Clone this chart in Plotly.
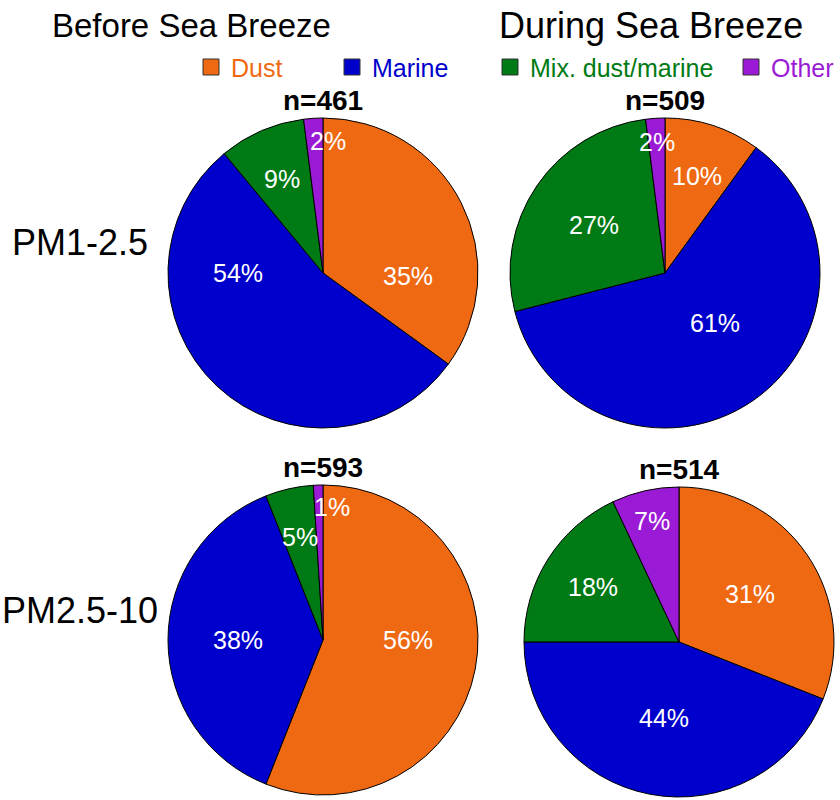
import math
import plotly.graph_objects as go

categories = ["Dust", "Marine", "Mix. dust/marine", "Other"]
colors = ["#EF6912", "#0000CC", "#007A14", "#9B1AD6"]

before_pm1_25 = [35, 54, 9, 2]
during_pm1_25 = [10, 61, 27, 2]
before_pm25_10 = [56, 38, 5, 1]
during_pm25_10 = [31, 44, 18, 7]

n_counts = [461, 509, 593, 514]
col_titles = ["Before Sea Breeze", "During Sea Breeze"]
row_titles = ["PM1-2.5", "PM2.5-10"]

W, H = 840, 800
FONT = "Liberation Sans, Arial, sans-serif"

# pie placement (pixel boxes: x0, x1, y0, y1)
boxes = [
    (168, 478, 118, 428),
    (510, 820, 118, 428),
    (168, 478, 485, 795),
    (524, 834, 487, 797),
]
series = [before_pm1_25, during_pm1_25, before_pm25_10, during_pm25_10]

# label placement tweaks (pie index, slice index) -> (angle deg clockwise from 12, radius fraction)
label_override = {
    (0, 0): (92, None), (0, 1): (270, None), (0, 3): (2, None),
    (1, 1): (135, 0.46),
    (2, 0): (90, None), (2, 2): (None, 0.68), (2, 3): (4, 0.86),
    (3, 1): (None, 0.50), (3, 3): (None, 0.80),
}


def label_frac(p):
    if p < 4:
        return 0.85
    if p < 8:
        return 0.74
    if p < 20:
        return 0.66
    return 0.55


fig = go.Figure()
annotations = []
for k, (vals, (x0, x1, y0, y1)) in enumerate(zip(series, boxes)):
    fig.add_trace(go.Pie(
        labels=categories,
        values=vals,
        sort=False,
        direction="clockwise",
        rotation=0,
        marker=dict(colors=colors, line=dict(color="black", width=1)),
        textinfo="none",
        domain=dict(x=[x0 / W, x1 / W], y=[1 - y1 / H, 1 - y0 / H]),
        showlegend=False,
        hoverinfo="label+percent",
    ))
    cx, cy = (x0 + x1) / 2, (y0 + y1) / 2
    r = min(x1 - x0, y1 - y0) / 2
    total = sum(vals)
    cum = 0
    for i, v in enumerate(vals):
        mid = (cum + v / 2) / total * 360
        cum += v
        a_ov, f_ov = label_override.get((k, i), (None, None))
        ang = mid if a_ov is None else a_ov
        f = label_frac(v / total * 100) if f_ov is None else f_ov
        px = cx + f * r * math.sin(math.radians(ang))
        py = cy - f * r * math.cos(math.radians(ang))
        annotations.append(dict(text=f"{v}%", x=px / W, y=1 - py / H, xref="paper", yref="paper",
                                showarrow=False, xanchor="center", yanchor="middle",
                                font=dict(size=25, family=FONT, color="white")))

# column titles
for t, cx, fs in zip(col_titles, [191, 651], [33, 36]):
    annotations.append(dict(text=t, x=cx / W, y=1 - 25 / H, xref="paper", yref="paper",
                            showarrow=False, xanchor="center", yanchor="middle",
                            font=dict(size=fs, family=FONT, color="black")))
# row titles
for t, cy in zip(row_titles, [242, 610]):
    annotations.append(dict(text=t, x=80 / W, y=1 - cy / H, xref="paper", yref="paper",
                            showarrow=False, xanchor="center", yanchor="middle",
                            font=dict(size=36, family=FONT, color="black")))
# n labels
for n, (x0, x1, y0, y1) in zip(n_counts, boxes):
    annotations.append(dict(text=f"<b>n={n}</b>", x=(x0 + x1) / 2 / W, y=1 - (y0 - 18) / H,
                            xref="paper", yref="paper", showarrow=False,
                            xanchor="center", yanchor="middle",
                            font=dict(size=28, family=FONT, color="black")))

# legend
shapes = []
leg_sq_x = [203, 344, 502, 743]
for cat, col, sx in zip(categories, colors, leg_sq_x):
    shapes.append(dict(type="rect", xref="paper", yref="paper",
                       x0=sx / W, x1=(sx + 16) / W, y0=1 - 75 / H, y1=1 - 59 / H,
                       fillcolor=col, line=dict(color="#333333", width=1)))
    annotations.append(dict(text=cat, x=(sx + 26) / W, y=1 - 68 / H, xref="paper", yref="paper",
                            showarrow=False, xanchor="left", yanchor="middle",
                            font=dict(size=25, family=FONT, color=col)))

fig.update_layout(
    width=W, height=H,
    margin=dict(l=0, r=0, t=0, b=0),
    paper_bgcolor="white", plot_bgcolor="white",
    annotations=annotations, shapes=shapes,
    font=dict(family=FONT),
)

fig.write_html("out.html", config={"displayModeBar": False},
               post_script="document.body.style.margin='0';")
